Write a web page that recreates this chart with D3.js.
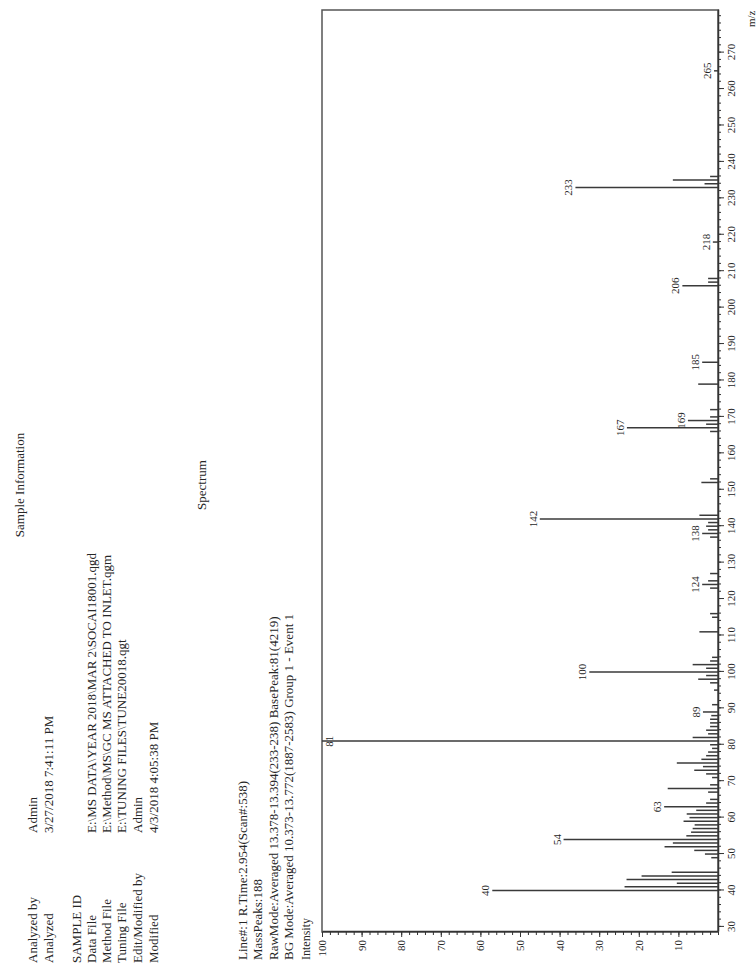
<!DOCTYPE html>
<html>
<head>
<meta charset="utf-8">
<script src="https://d3js.org/d3.v7.min.js"></script>
<style>
  body { margin: 0; background: #fff; }
  text { font-family: "Liberation Serif", "DejaVu Serif", serif; fill: #262626; }
</style>
</head>
<body>
<script>
// spectrum values (m/z, relative intensity %)
const mz = [40, 41, 42, 43, 44, 45, 49, 50, 51, 52, 53, 54, 55, 56, 57, 58, 59, 60, 61, 62,
  63, 64, 65, 67, 68, 69, 71, 72, 73, 74, 75, 76, 77, 78, 79, 80, 81, 82, 83, 84,
  85, 86, 87, 88, 89, 91, 95, 97, 98, 99, 100, 101, 102, 103, 104, 111, 115, 116, 123, 124,
  125, 127, 137, 138, 139, 140, 141, 142, 143, 152, 153, 166, 167, 168, 169, 170, 172, 179, 185, 206,
  207, 208, 218, 233, 234, 235, 236, 265];
const intensity = [57, 23.6, 10.4, 23.1, 19.3, 11.7, 1.7, 3.3, 6, 13.5, 11.4, 39, 8, 6.8, 6.4, 5.9, 8.7, 7.2, 7.9, 5.5,
  13.6, 3, 2, 2.5, 12.7, 2, 1.5, 3, 6, 3.8, 10.4, 4.2, 3, 2.5, 1.5, 2, 100, 6.4, 2.5, 3,
  2, 2, 2, 1.7, 3.8, 1.5, 1, 2, 5, 3, 32.5, 3, 6.4, 2, 1.5, 4.7, 1.5, 2, 2, 4,
  2.5, 2, 2, 4, 2.5, 3, 2.5, 45, 4.7, 4.2, 2, 2, 23, 3, 7.6, 2, 2, 5, 4, 9,
  2.5, 2.5, 1.3, 36, 3.4, 11.4, 2, 1];
const labeledPeaks = [40, 54, 63, 81, 89, 100, 124, 138, 142, 167, 169, 185, 206, 218, 233, 265];

const mzTicks = d3.range(30, 271, 10);
const mzMinor = d3.range(30, 282, 2);
const intensityTicks = d3.range(10, 101, 10);
const intensityMinor = d3.range(0, 101, 2);

const infoLabels = ["Analyzed by", "Analyzed", "SAMPLE ID", "Data File", "Method File", "Tuning File", "Edit/Modified by", "Modified"];
const infoValues = ["Admin", "3/27/2018 7:41:11 PM", "", "E:\\MS DATA\\YEAR 2018\\MAR 2\\SOCAI18001.qgd",
  "E:\\Method\\MS\\GC MS ATTACHED TO INLET.qgm", "E:\\TUNING FILES\\TUNE20018.qgt", "Admin", "4/3/2018 4:05:38 PM"];
const infoRows = [37, 53, 81, 96, 111, 126, 142, 158];

const spectrumLines = ["Line#:1  R.Time:2.954(Scan#:538)",
  "MassPeaks:188",
  "RawMode:Averaged 13.378-13.394(233-238) BasePeak:81(4219)",
  "BG Mode:Averaged 10.373-13.772(1887-2583) Group 1 - Event 1"];
const spectrumRows = [247, 262, 278, 293];

const width = 756, height = 969;

const svg = d3.select("body").append("svg")
  .attr("width", width)
  .attr("height", height);

// the printed page is turned a quarter; draw it upright and rotate
const page = svg.append("g")
  .attr("transform", `translate(0,${height}) rotate(-90)`);

// header
page.append("text")
  .attr("x", 484).attr("y", 24)
  .attr("text-anchor", "middle")
  .style("font-size", "13px")
  .text("Sample Information");

page.selectAll(".lab")
  .data(infoLabels)
  .join("text")
    .attr("class", "lab")
    .attr("x", 6)
    .attr("y", (d, i) => infoRows[i])
    .style("font-size", "13px")
    .text(d => d);

page.selectAll(".val")
  .data(infoValues)
  .join("text")
    .attr("class", "val")
    .attr("x", 136)
    .attr("y", (d, i) => infoRows[i])
    .style("font-size", "13px")
    .text(d => d);

page.append("text")
  .attr("x", 484).attr("y", 206)
  .attr("text-anchor", "middle")
  .style("font-size", "13px")
  .text("Spectrum");

page.selectAll(".spec")
  .data(spectrumLines)
  .join("text")
    .attr("class", "spec")
    .attr("x", 9)
    .attr("y", (d, i) => spectrumRows[i])
    .style("font-size", "13px")
    .text(d => d);

// plot
const plotLeft = 37, plotRight = 959, plotTop = 322, plotBottom = 718;

let x = d3.scaleLinear()
  .domain([28.6, 281.7])
  .range([plotLeft, plotRight]);

let y = d3.scaleLinear()
  .domain([0, 100])
  .range([plotBottom, plotTop]);

page.append("rect")
  .attr("x", plotLeft).attr("y", plotTop)
  .attr("width", plotRight - plotLeft).attr("height", plotBottom - plotTop)
  .attr("fill", "none")
  .attr("stroke", "#555")
  .attr("stroke-width", 1.5);

// m/z axis
page.append("g")
  .attr("transform", `translate(0,${plotBottom})`)
  .call(d3.axisBottom(x).tickValues(mzMinor).tickSize(3).tickFormat("").tickSizeOuter(0))
  .call(g => g.select(".domain").remove())
  .selectAll("line").attr("stroke", "#333");

page.append("g")
  .attr("transform", `translate(0,${plotBottom})`)
  .call(d3.axisBottom(x).tickValues(mzTicks).tickSize(6).tickSizeOuter(0))
  .call(g => g.select(".domain").attr("stroke", "#333").attr("stroke-width", 1.5))
  .call(g => g.selectAll("text").style("font-size", "11px").style("font-family", "Liberation Serif").attr("fill", "#262626"))
  .selectAll("line").attr("stroke", "#333");

page.append("text")
  .attr("x", 942).attr("y", 755)
  .style("font-size", "11px")
  .text("m/z");

// intensity axis
page.append("g")
  .attr("transform", `translate(${plotLeft},0)`)
  .call(d3.axisLeft(y).tickValues(intensityMinor).tickSize(3).tickFormat("").tickSizeOuter(0))
  .call(g => g.select(".domain").remove())
  .selectAll("line").attr("stroke", "#333");

page.append("g")
  .attr("transform", `translate(${plotLeft},0)`)
  .call(d3.axisLeft(y).tickValues(intensityTicks).tickSize(5).tickSizeOuter(0))
  .call(g => g.select(".domain").attr("stroke", "#333").attr("stroke-width", 1.5))
  .call(g => g.selectAll("text").style("font-size", "11px").style("font-family", "Liberation Serif").attr("fill", "#262626"))
  .selectAll("line").attr("stroke", "#333");

page.append("text")
  .attr("x", 9).attr("y", 310)
  .style("font-size", "12px")
  .text("Intensity");

// peaks
const peaks = mz.map((m, i) => ({ m: m, v: intensity[i] }));

page.selectAll(".peak")
  .data(peaks)
  .join("line")
    .attr("class", "peak")
    .attr("x1", d => x(d.m))
    .attr("x2", d => x(d.m))
    .attr("y1", y(0))
    .attr("y2", d => y(d.v))
    .attr("stroke", "#3a3a3a")
    .attr("stroke-width", 1.5);

page.selectAll(".plabel")
  .data(peaks.filter(d => labeledPeaks.includes(d.m)))
  .join("text")
    .attr("class", "plabel")
    .attr("x", d => x(d.m))
    .attr("y", d => Math.max(y(d.v) - 3, plotTop + 11))
    .attr("text-anchor", "middle")
    .style("font-size", "11px")
    .text(d => d.m);
</script>
</body>
</html>
